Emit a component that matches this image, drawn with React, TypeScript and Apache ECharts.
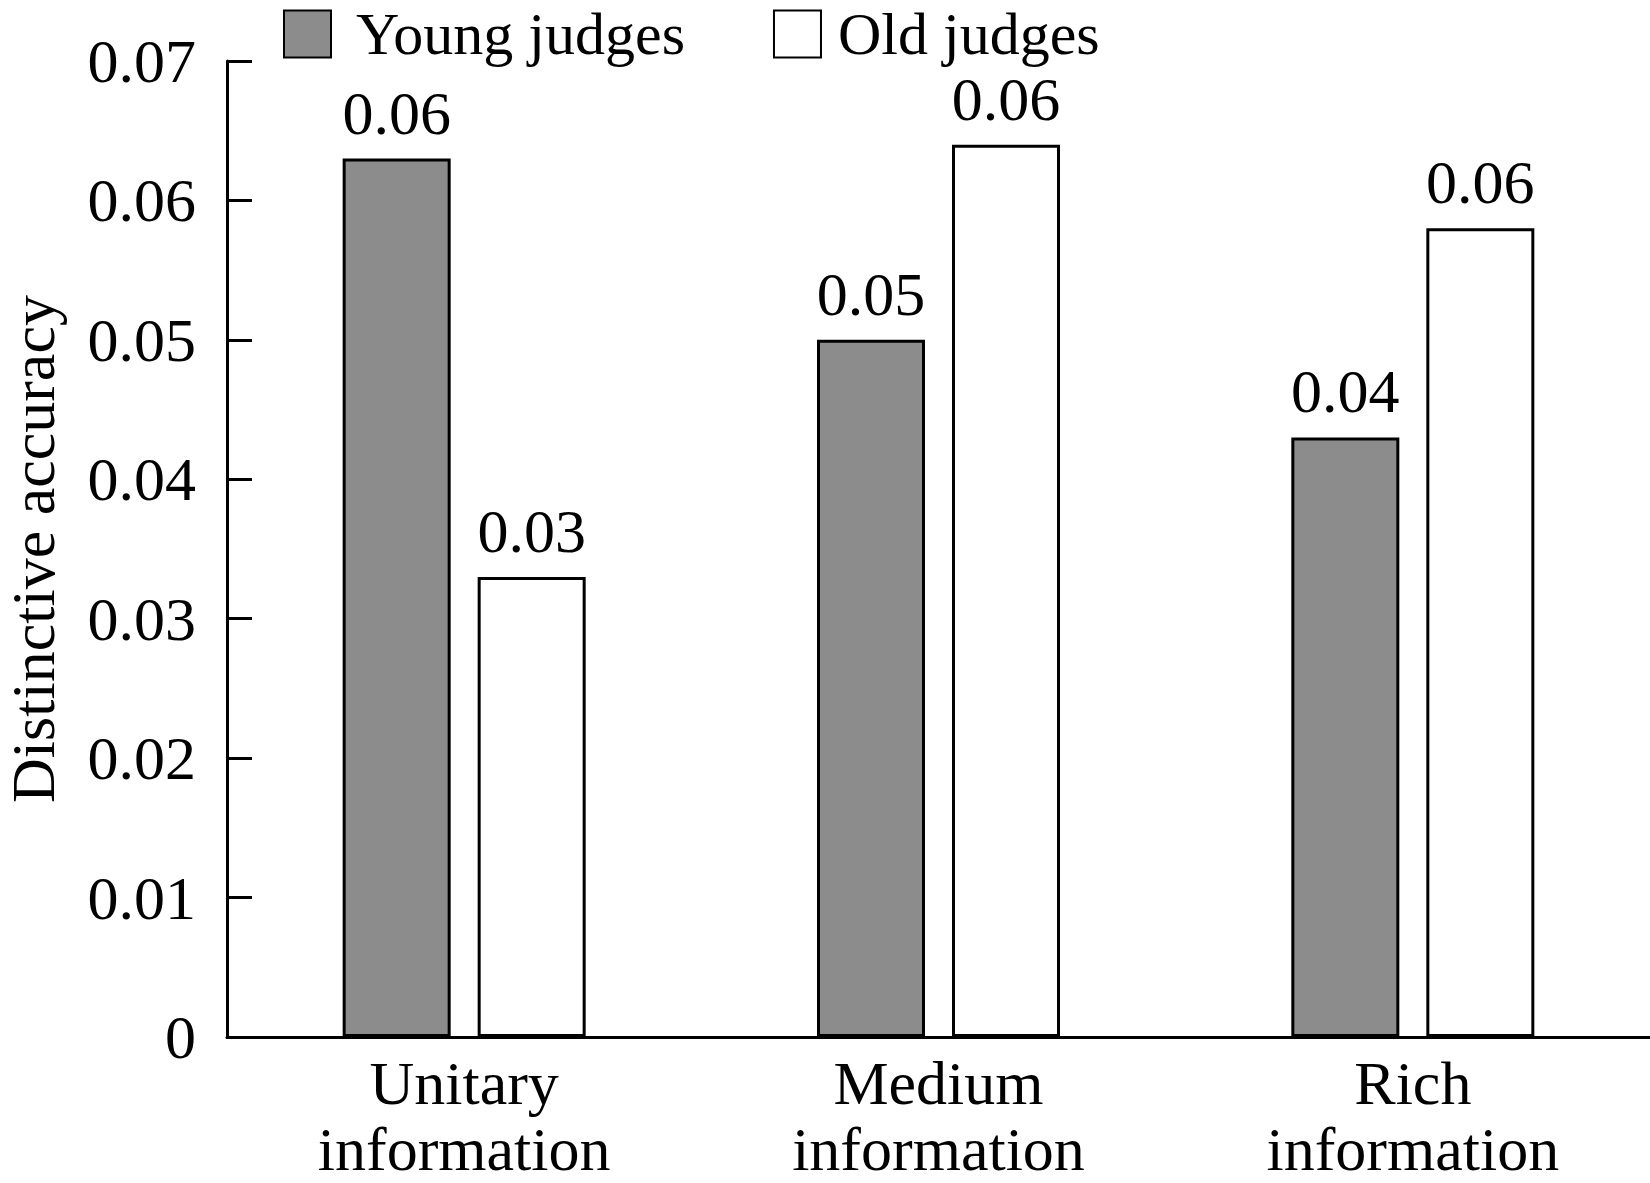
import React, { useEffect, useRef } from "react";
import * as echarts from "echarts";

const categories = ["Unitary\ninformation", "Medium\ninformation", "Rich\ninformation"];
const seriesNames = ["Young judges", "Old judges"];
const youngValues = [0.063, 0.05, 0.043];
const oldValues = [0.033, 0.064, 0.058];
const yTicks = { min: 0, max: 0.07, interval: 0.01 };
const yAxisTitle = "Distinctive accuracy";

const FONT = "'Liberation Serif', 'Times New Roman', serif";

export default function App() {
  const ref = useRef<HTMLDivElement>(null);
  useEffect(() => {
    if (!ref.current) return;
    const chart = echarts.init(ref.current, undefined, { renderer: "svg" });
    const labelCfg = {
      show: true,
      position: "top" as const,
      distance: 15,
      fontFamily: FONT,
      fontSize: 62,
      color: "#000",
      formatter: (p: any) => Number(p.value).toFixed(2),
    };
    chart.setOption({
      animation: false,
      backgroundColor: "#fff",
      textStyle: { fontFamily: FONT, color: "#000" },
      legend: {
        left: 278,
        top: -1,
        itemWidth: 47,
        itemHeight: 47,
        itemGap: 88,
        icon: "rect",
        data: [
          { name: seriesNames[0], textStyle: { padding: [0, 0, 0, 20] } },
          { name: seriesNames[1], textStyle: { padding: [0, 0, 0, 12] } },
        ],
        textStyle: { fontFamily: FONT, fontSize: 60, color: "#000", lineHeight: 47 },
      },
      grid: {
        left: 227,
        right: 0,
        top: 61,
        bottom: 146,
        containLabel: false,
        outerBoundsMode: "none",
      },
      xAxis: {
        type: "category",
        data: categories,
        axisLine: { lineStyle: { color: "#000", width: 3 } },
        axisTick: { show: false },
        axisLabel: {
          fontFamily: FONT,
          fontSize: 62,
          color: "#000",
          margin: 8,
          interval: 0,
          formatter: (v: string) => {
            const parts = v.split("\n");
            return `{a|${parts[0]}}\n{b|${parts[1]}}`;
          },
          rich: {
            a: { fontFamily: FONT, fontSize: 62, color: "#000", lineHeight: 76 },
            b: { fontFamily: FONT, fontSize: 62, color: "#000", lineHeight: 56 },
          },
        },
      },
      yAxis: {
        type: "value",
        min: yTicks.min,
        max: yTicks.max,
        interval: yTicks.interval,
        name: yAxisTitle,
        nameLocation: "middle",
        nameGap: 172,
        nameTextStyle: { fontFamily: FONT, fontSize: 62, color: "#000", lineHeight: 44 },
        axisLine: { show: true, lineStyle: { color: "#000", width: 3 } },
        axisTick: { show: true, inside: true, length: 25, lineStyle: { color: "#000", width: 3 } },
        splitLine: { show: false },
        axisLabel: {
          fontFamily: FONT,
          fontSize: 62,
          color: "#000",
          margin: 31,
          formatter: (v: number) => (v === 0 ? "0" : v.toFixed(2)),
        },
      },
      series: [
        {
          name: seriesNames[0],
          type: "bar",
          data: youngValues,
          barWidth: 108,
          barGap: "25%",
          itemStyle: { color: "#8c8c8c", borderColor: "#000", borderWidth: 3 },
          label: labelCfg,
        },
        {
          name: seriesNames[1],
          type: "bar",
          data: oldValues,
          barWidth: 108,
          barGap: "25%",
          itemStyle: { color: "#fff", borderColor: "#000", borderWidth: 3 },
          label: labelCfg,
        },
      ],
    });
    return () => chart.dispose();
  }, []);
  return (
    <div
      ref={ref}
      style={{ position: "absolute", left: 0, top: 0, width: 1650, height: 1183 }}
    />
  );
}
